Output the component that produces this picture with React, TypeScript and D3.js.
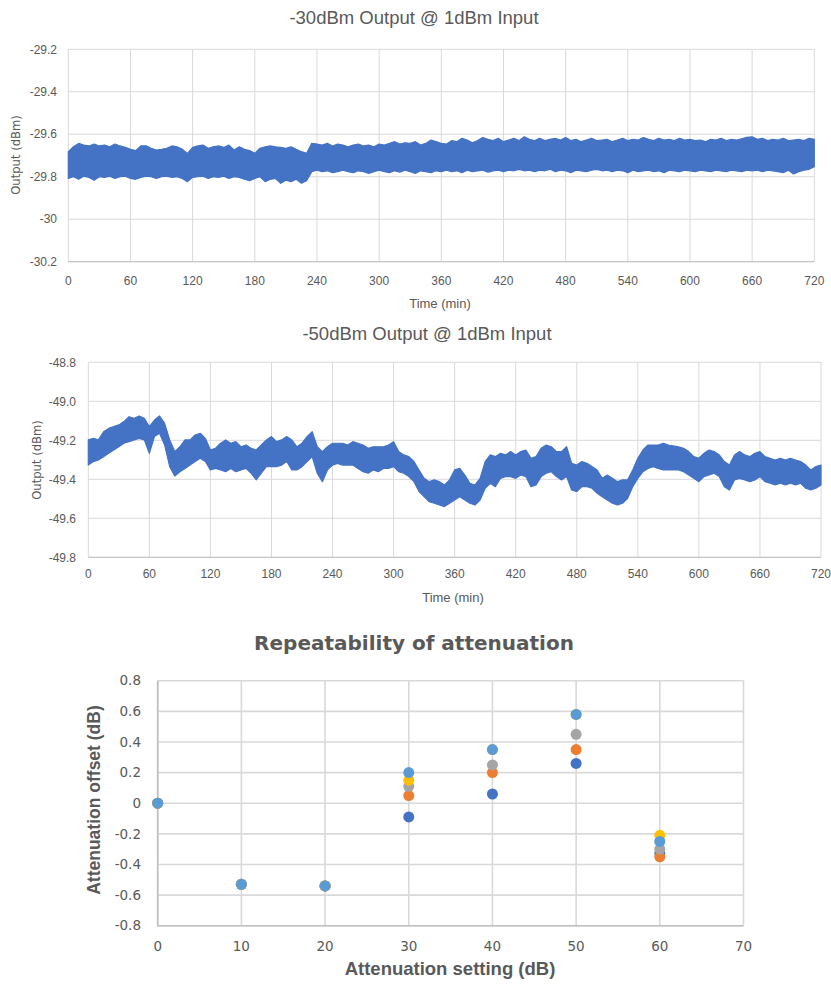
import React, { useEffect, useRef } from 'react'
import * as d3 from 'd3'

// sampling step of the traced envelopes (minutes)
const STEP_MIN = 5

const timeTicks = [0, 60, 120, 180, 240, 300, 360, 420, 480, 540, 600, 660, 720]
const out30Ticks = [-29.2, -29.4, -29.6, -29.8, -30, -30.2]
const out30Labels = ['-29.2', '-29.4', '-29.6', '-29.8', '-30', '-30.2']
const out50Ticks = [-48.8, -49.0, -49.2, -49.4, -49.6, -49.8]
const out50Labels = ['-48.8', '-49.0', '-49.2', '-49.4', '-49.6', '-49.8']

// -30 dBm trace: upper / lower edge of the noise band, every 5 min
const out30Upper = [
    -29.682, -29.659, -29.643, -29.651, -29.655, -29.646, -29.655, -29.651, -29.659, -29.646,
    -29.655, -29.662, -29.671, -29.677, -29.655, -29.654, -29.666, -29.674, -29.671, -29.666,
    -29.655, -29.659, -29.671, -29.690, -29.662, -29.655, -29.651, -29.666, -29.659, -29.655,
    -29.662, -29.651, -29.674, -29.659, -29.671, -29.677, -29.690, -29.666, -29.659, -29.655,
    -29.659, -29.662, -29.666, -29.659, -29.671, -29.682, -29.690, -29.643, -29.646, -29.651,
    -29.643, -29.655, -29.646, -29.651, -29.659, -29.651, -29.646, -29.655, -29.651, -29.659,
    -29.646, -29.651, -29.643, -29.635, -29.646, -29.640, -29.643, -29.635, -29.651, -29.643,
    -29.627, -29.635, -29.643, -29.646, -29.630, -29.635, -29.619, -29.627, -29.640, -29.630,
    -29.615, -29.624, -29.630, -29.619, -29.635, -29.627, -29.619, -29.630, -29.612, -29.624,
    -29.630, -29.619, -29.630, -29.624, -29.619, -29.627, -29.615, -29.630, -29.624, -29.635,
    -29.627, -29.619, -29.630, -29.627, -29.624, -29.635, -29.627, -29.619, -29.630, -29.624,
    -29.627, -29.615, -29.624, -29.630, -29.619, -29.627, -29.624, -29.630, -29.619, -29.627,
    -29.624, -29.630, -29.627, -29.635, -29.624, -29.627, -29.619, -29.630, -29.624, -29.627,
    -29.621, -29.615, -29.612, -29.624, -29.619, -29.630, -29.624, -29.627, -29.619, -29.630,
    -29.627, -29.624, -29.630, -29.619, -29.624
]
const out30Lower = [
    -29.808, -29.800, -29.812, -29.797, -29.803, -29.816, -29.800, -29.803, -29.797, -29.808,
    -29.800, -29.797, -29.808, -29.812, -29.803, -29.797, -29.800, -29.808, -29.800, -29.797,
    -29.803, -29.800, -29.808, -29.823, -29.803, -29.800, -29.797, -29.808, -29.800, -29.803,
    -29.797, -29.808, -29.800, -29.803, -29.812, -29.819, -29.808, -29.800, -29.823, -29.812,
    -29.808, -29.831, -29.816, -29.823, -29.812, -29.831, -29.819, -29.776, -29.769, -29.776,
    -29.772, -29.781, -29.776, -29.769, -29.776, -29.781, -29.772, -29.776, -29.784, -29.776,
    -29.769, -29.776, -29.781, -29.772, -29.778, -29.769, -29.776, -29.784, -29.772, -29.776,
    -29.781, -29.772, -29.776, -29.769, -29.776, -29.772, -29.781, -29.769, -29.776, -29.772,
    -29.769, -29.778, -29.772, -29.769, -29.776, -29.769, -29.772, -29.765, -29.772, -29.769,
    -29.776, -29.769, -29.772, -29.765, -29.776, -29.769, -29.772, -29.781, -29.769, -29.772,
    -29.776, -29.769, -29.765, -29.772, -29.769, -29.776, -29.769, -29.772, -29.781, -29.769,
    -29.776, -29.772, -29.769, -29.776, -29.772, -29.781, -29.769, -29.772, -29.776, -29.769,
    -29.772, -29.776, -29.769, -29.772, -29.776, -29.769, -29.772, -29.776, -29.769, -29.772,
    -29.776, -29.769, -29.772, -29.769, -29.776, -29.769, -29.772, -29.776, -29.781, -29.769,
    -29.787, -29.776, -29.769, -29.765, -29.753
]

// -50 dBm trace
const out50Upper = [
    -49.198, -49.190, -49.198, -49.156, -49.139, -49.130, -49.121, -49.104, -49.079, -49.087,
    -49.075, -49.087, -49.130, -49.096, -49.075, -49.113, -49.198, -49.258, -49.233, -49.198,
    -49.198, -49.173, -49.164, -49.190, -49.250, -49.241, -49.215, -49.198, -49.215, -49.207,
    -49.233, -49.224, -49.241, -49.250, -49.224, -49.198, -49.181, -49.207, -49.198, -49.181,
    -49.198, -49.233, -49.215, -49.181, -49.156, -49.233, -49.258, -49.233, -49.215, -49.215,
    -49.215, -49.224, -49.207, -49.215, -49.224, -49.241, -49.233, -49.233, -49.233, -49.224,
    -49.207, -49.258, -49.275, -49.284, -49.309, -49.352, -49.395, -49.412, -49.403, -49.412,
    -49.429, -49.403, -49.352, -49.344, -49.378, -49.420, -49.429, -49.395, -49.309, -49.275,
    -49.284, -49.267, -49.275, -49.258, -49.275, -49.258, -49.250, -49.292, -49.284, -49.241,
    -49.224, -49.233, -49.258, -49.258, -49.233, -49.318, -49.327, -49.309, -49.318, -49.335,
    -49.352, -49.395, -49.378, -49.395, -49.412, -49.403, -49.403, -49.352, -49.292, -49.250,
    -49.224, -49.224, -49.224, -49.215, -49.224, -49.229, -49.233, -49.241, -49.258, -49.284,
    -49.292, -49.267, -49.250, -49.258, -49.275, -49.309, -49.327, -49.275, -49.258, -49.275,
    -49.284, -49.267, -49.258, -49.284, -49.292, -49.301, -49.292, -49.301, -49.292, -49.301,
    -49.309, -49.327, -49.352, -49.335, -49.327
]
const out50Lower = [
    -49.327, -49.309, -49.301, -49.284, -49.267, -49.250, -49.233, -49.215, -49.207, -49.198,
    -49.190, -49.198, -49.267, -49.181, -49.164, -49.224, -49.335, -49.383, -49.361, -49.344,
    -49.327, -49.309, -49.292, -49.309, -49.352, -49.344, -49.352, -49.361, -49.344, -49.361,
    -49.352, -49.344, -49.369, -49.403, -49.369, -49.335, -49.335, -49.335, -49.327, -49.309,
    -49.352, -49.352, -49.335, -49.309, -49.284, -49.369, -49.412, -49.352, -49.327, -49.318,
    -49.327, -49.327, -49.327, -49.344, -49.361, -49.369, -49.352, -49.361, -49.344, -49.344,
    -49.335, -49.361, -49.369, -49.386, -49.412, -49.463, -49.489, -49.515, -49.523, -49.532,
    -49.540, -49.523, -49.506, -49.489, -49.506, -49.523, -49.532, -49.506, -49.446, -49.420,
    -49.438, -49.395, -49.386, -49.386, -49.395, -49.378, -49.386, -49.438, -49.429, -49.386,
    -49.369, -49.361, -49.386, -49.403, -49.386, -49.455, -49.463, -49.438, -49.438, -49.446,
    -49.472, -49.489, -49.506, -49.523, -49.532, -49.523, -49.497, -49.438, -49.395, -49.361,
    -49.344, -49.335, -49.344, -49.352, -49.352, -49.352, -49.352, -49.361, -49.378, -49.395,
    -49.412, -49.386, -49.378, -49.369, -49.386, -49.438, -49.455, -49.403, -49.395, -49.403,
    -49.412, -49.403, -49.386, -49.412, -49.420, -49.429, -49.420, -49.429, -49.420, -49.429,
    -49.420, -49.446, -49.455, -49.446, -49.429
]

// repeatability scatter
const attnSettings = [0, 10, 20, 30, 40, 50, 60]
const attnXTicks = [0, 10, 20, 30, 40, 50, 60, 70]
const attnYTicks = [0.8, 0.6, 0.4, 0.2, 0, -0.2, -0.4, -0.6, -0.8]
const attnYLabels = ['0.8', '0.6', '0.4', '0.2', '0', '-0.2', '-0.4', '-0.6', '-0.8']
const run1 = [0, -0.53, -0.54, -0.09, 0.06, 0.26, -0.33]
const run2 = [0, -0.53, -0.54, 0.05, 0.20, 0.35, -0.35]
const run3 = [0, -0.53, -0.54, 0.11, 0.25, 0.45, -0.30]
const run4 = [0, -0.53, -0.54, 0.15, 0.35, 0.58, -0.21]
const run5 = [0, -0.53, -0.54, 0.20, 0.35, 0.58, -0.25]
const runColors = ['#4472C4', '#ED7D31', '#A5A5A5', '#FFC000', '#5B9BD5']

const TEXT = '#595959'
const GRID = '#D9D9D9'
const SANS = 'Liberation Sans, Arial, sans-serif'
const WIDE = 'DejaVu Sans, Verdana, sans-serif'

type Sel = d3.Selection<SVGSVGElement, unknown, null, undefined>

interface TraceCfg {
    title: string
    titleX: number
    titleY: number
    left: number
    right: number
    top: number
    bottom: number
    yTicks: number[]
    yLabels: string[]
    labelRight: number
    xLabelY: number
    xTitleX: number
    xTitleY: number
    yTitleX: number
    yTitleY: number
    upper: number[]
    lower: number[]
}

function drawTrace(svg: Sel, c: TraceCfg) {
    const x = d3.scaleLinear().domain([0, 720]).range([c.left, c.right])
    const y = d3.scaleLinear().domain([c.yTicks[c.yTicks.length - 1], c.yTicks[0]]).range([c.bottom, c.top])
    const g = svg.append('g')

    g.selectAll('.hgrid').data(c.yTicks).join('line')
        .attr('x1', c.left).attr('x2', c.right)
        .attr('y1', d => y(d)).attr('y2', d => y(d))
        .attr('stroke', GRID).attr('stroke-width', 1)
    g.selectAll('.vgrid').data(timeTicks).join('line')
        .attr('x1', d => x(d)).attr('x2', d => x(d))
        .attr('y1', c.top).attr('y2', c.bottom)
        .attr('stroke', GRID).attr('stroke-width', 1)
    // bottom axis line a bit darker
    g.append('line')
        .attr('x1', c.left).attr('x2', c.right)
        .attr('y1', c.bottom).attr('y2', c.bottom)
        .attr('stroke', '#BFBFBF')

    const band = d3.area<number>()
        .x((_, i) => x(i * STEP_MIN))
        .y0((_, i) => y(c.lower[i]))
        .y1(d => y(d))
    g.append('path')
        .datum(c.upper)
        .attr('d', band)
        .attr('fill', '#4472C4')
        .attr('stroke', '#4472C4')
        .attr('stroke-width', 1.2)
        .attr('stroke-linejoin', 'round')

    g.selectAll('.ylab').data(c.yTicks).join('text')
        .attr('x', c.labelRight)
        .attr('y', d => y(d))
        .attr('dy', '0.35em')
        .attr('text-anchor', 'end')
        .attr('font-family', SANS).attr('font-size', 12).attr('fill', TEXT)
        .text((_, i) => c.yLabels[i])
    g.selectAll('.xlab').data(timeTicks).join('text')
        .attr('x', d => x(d))
        .attr('y', c.xLabelY)
        .attr('text-anchor', 'middle')
        .attr('font-family', SANS).attr('font-size', 12).attr('fill', TEXT)
        .text(d => d)

    g.append('text')
        .attr('x', c.titleX).attr('y', c.titleY)
        .attr('text-anchor', 'middle')
        .attr('font-family', SANS).attr('font-size', 18.5).attr('fill', TEXT)
        .text(c.title)
    g.append('text')
        .attr('x', c.xTitleX).attr('y', c.xTitleY)
        .attr('text-anchor', 'middle')
        .attr('font-family', SANS).attr('font-size', 13).attr('fill', TEXT)
        .text('Time (min)')
    g.append('text')
        .attr('transform', `translate(${c.yTitleX},${c.yTitleY}) rotate(-90)`)
        .attr('dy', '0.35em')
        .attr('text-anchor', 'middle')
        .attr('font-family', WIDE).attr('font-size', 11.6).attr('fill', TEXT)
        .text('Output (dBm)')
}

function drawRepeatability(svg: Sel) {
    const left = 157.7, right = 743.5, top = 680.7, bottom = 925.7
    const x = d3.scaleLinear().domain([0, 70]).range([left, right])
    const y = d3.scaleLinear().domain([-0.8, 0.8]).range([bottom, top])
    const g = svg.append('g')

    g.selectAll('.hgrid').data(attnYTicks).join('line')
        .attr('x1', left).attr('x2', right)
        .attr('y1', d => y(d)).attr('y2', d => y(d))
        .attr('stroke', GRID).attr('stroke-width', 1.6)
    g.selectAll('.vgrid').data(attnXTicks).join('line')
        .attr('x1', d => x(d)).attr('x2', d => x(d))
        .attr('y1', top).attr('y2', bottom)
        .attr('stroke', GRID).attr('stroke-width', 1.6)
    g.append('path')
        .attr('d', `M${left},${top}V${bottom}H${right}`)
        .attr('fill', 'none')
        .attr('stroke', '#BFBFBF').attr('stroke-width', 1.6)

    const runs = [run1, run2, run3, run4, run5]
    runs.forEach((run, k) => {
        g.append('g').selectAll('circle').data(run).join('circle')
            .attr('cx', (_, i) => x(attnSettings[i]))
            .attr('cy', d => y(d))
            .attr('r', 5.5)
            .attr('fill', runColors[k])
    })

    g.selectAll('.ylab').data(attnYTicks).join('text')
        .attr('x', 141)
        .attr('y', d => y(d))
        .attr('dy', '0.35em')
        .attr('text-anchor', 'end')
        .attr('font-family', WIDE).attr('font-size', 13.5).attr('fill', TEXT)
        .text((_, i) => attnYLabels[i])
    g.selectAll('.xlab').data(attnXTicks).join('text')
        .attr('x', d => x(d))
        .attr('y', 951)
        .attr('text-anchor', 'middle')
        .attr('font-family', WIDE).attr('font-size', 13.5).attr('fill', TEXT)
        .text(d => d)

    g.append('text')
        .attr('x', 414).attr('y', 650)
        .attr('text-anchor', 'middle')
        .attr('font-family', WIDE).attr('font-weight', 'bold').attr('font-size', 20).attr('fill', TEXT)
        .text('Repeatability of attenuation')
    g.append('text')
        .attr('x', 450).attr('y', 975)
        .attr('text-anchor', 'middle')
        .attr('font-family', SANS).attr('font-weight', 'bold').attr('font-size', 18.5).attr('fill', TEXT)
        .text('Attenuation setting (dB)')
    g.append('text')
        .attr('transform', 'translate(94,800) rotate(-90)')
        .attr('dy', '0.35em')
        .attr('text-anchor', 'middle')
        .attr('font-family', SANS).attr('font-weight', 'bold').attr('font-size', 17.5).attr('fill', TEXT)
        .text('Attenuation offset (dB)')
}

const App: React.FC = () => {
    const ref = useRef<SVGSVGElement | null>(null)

    useEffect(() => {
        if (!ref.current) return
        const svg = d3.select(ref.current)
        svg.selectAll('*').remove()
        svg.append('rect').attr('width', 831).attr('height', 987).attr('fill', '#fff')

        drawTrace(svg, {
            title: '-30dBm Output @ 1dBm Input', titleX: 414, titleY: 23.5,
            left: 68.3, right: 814.3, top: 49.3, bottom: 261.7,
            yTicks: out30Ticks, yLabels: out30Labels, labelRight: 57,
            xLabelY: 284.5, xTitleX: 440, xTitleY: 307.5, yTitleX: 16, yTitleY: 155,
            upper: out30Upper, lower: out30Lower
        })
        drawTrace(svg, {
            title: '-50dBm Output @ 1dBm Input', titleX: 427, titleY: 339.5,
            left: 88.3, right: 821, top: 362.3, bottom: 557.3,
            yTicks: out50Ticks, yLabels: out50Labels, labelRight: 76,
            xLabelY: 577.5, xTitleX: 453, xTitleY: 601.5, yTitleX: 37, yTitleY: 460,
            upper: out50Upper, lower: out50Lower
        })
        drawRepeatability(svg)
    }, [])

    return (
        <svg ref={ref} width={831} height={987}
            style={{ position: 'absolute', left: 0, top: 0, display: 'block' }} />
    )
}

export default App
